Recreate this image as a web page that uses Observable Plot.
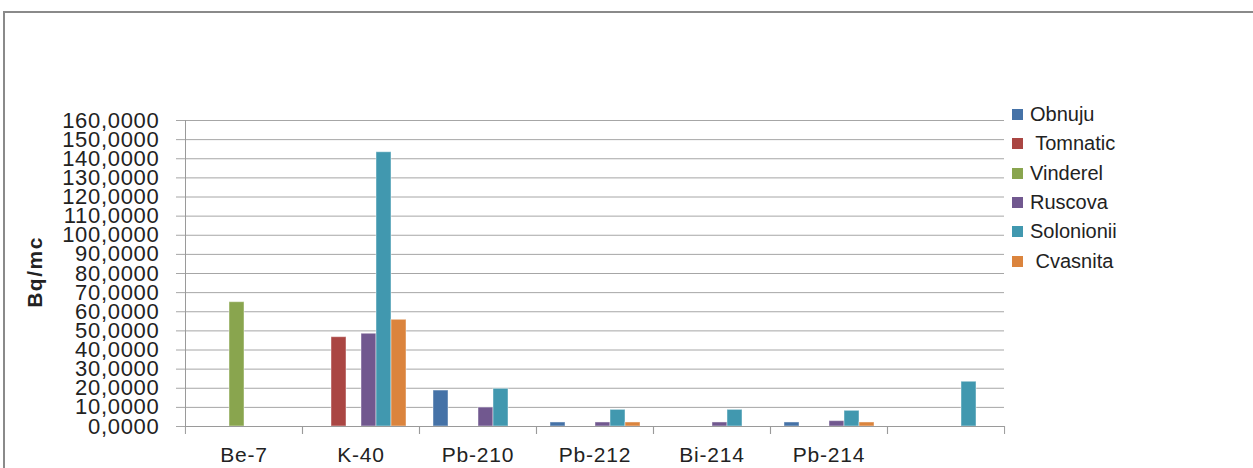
<!DOCTYPE html>
<html>
<head>
<meta charset="utf-8">
<script src="https://cdn.jsdelivr.net/npm/d3@7"></script>
<script src="https://cdn.jsdelivr.net/npm/@observablehq/plot@0.6"></script>
<style>
  html, body { margin: 0; padding: 0; background: #fff; overflow: hidden; }
  #wrap { position: relative; width: 1253px; height: 468px; overflow: hidden; }
  #border { position: absolute; left: 3px; top: 11px; width: 1400px; height: 700px; border: 2px solid #8a8a8a; box-sizing: border-box; }
  #chart { position: absolute; left: 0; top: 0; }
  #ytitle { position: absolute; left: 35px; top: 272px; transform: translate(-50%, -50%) rotate(-90deg);
            font: bold 21px "Liberation Sans", Arial, sans-serif; letter-spacing: 1.5px; color: #222; white-space: nowrap; }
  #legend { position: absolute; left: 1012px; top: 100px; font: 20px "Liberation Sans", Arial, sans-serif; color: #222; }
  #legend .item { height: 29.3px; display: flex; align-items: center; white-space: pre; }
  #legend .sw { width: 11px; height: 11px; margin-right: 7px; flex: none; }
</style>
</head>
<body>
<div id="wrap">
  <div id="border"></div>
  <div id="chart"></div>
  <div id="ytitle">Bq/mc</div>
  <div id="legend"></div>
</div>
<script>
// Categories (7th category has no label)
const categories = ["Be-7", "K-40", "Pb-210", "Pb-212", "Bi-214", "Pb-214", ""];
const seriesNames = ["Obnuju", "Tomnatic", "Vinderel", "Ruscova", "Solonionii", "Cvasnita"];
const legendLabels = ["Obnuju", " Tomnatic", "Vinderel", "Ruscova", "Solonionii", " Cvasnita"];
const colors = ["#4572A7", "#AA4643", "#89A54E", "#71588F", "#4198AF", "#DB843D"];

// Values (Bq/mc) per category, null = no bar
const obnuju     = [null, null, 18.8, 2.1, null, 2.1, null];
const tomnatic   = [null, 46.7, null, null, null, null, null];
const vinderel   = [65.0, null, null, null, null, null, null];
const ruscova    = [null, 48.5, 9.9, 2.1, 2.1, 2.8, null];
const solonionii = [null, 143.4, 19.7, 8.7, 8.7, 8.2, 23.4];
const cvasnita   = [null, 55.8, null, 2.1, null, 2.1, null];

const yTicks = d3.range(0, 161, 10);

const seriesValues = [obnuju, tomnatic, vinderel, ruscova, solonionii, cvasnita];
const table = [];
seriesNames.forEach((s, i) => {
  categories.forEach((c, j) => {
    const v = seriesValues[i][j];
    if (v != null) table.push({category: c, series: s, value: v});
  });
});

const W = 1253, H = 468;
const mL = 184, mR = 249, mT = 120, mB = 42;
const half = (W - mL - mR) / categories.length / 2;
const font = '"Liberation Sans", Arial, sans-serif';
const gridColor = "#a6a6a6";
const axisColor = "#9a9a9a";

const chart = Plot.plot({
  width: W,
  height: H,
  marginLeft: mL,
  marginRight: mR,
  marginTop: mT,
  marginBottom: mB,
  style: {fontFamily: font, color: "#222", background: "transparent", overflow: "visible"},
  fx: {domain: categories, padding: 0, label: null},
  x: {domain: seriesNames, paddingInner: 0, paddingOuter: 0.9, axis: null},
  y: {domain: [0, 160], label: null},
  color: {domain: seriesNames, range: colors},
  marks: [
    Plot.gridY(yTicks, {stroke: gridColor, strokeOpacity: 1}),
    Plot.barY(table, {fx: "category", x: "series", y: "value", fill: "series", stroke: "#ffffff", strokeOpacity: 0.45, strokeWidth: 1}),
    Plot.axisY(yTicks, {
      tickSize: 9,
      tickPadding: 17,
      tickFormat: d => d.toFixed(4).replace(".", ","),
      fontSize: 22,
      stroke: gridColor,
      fill: "#222",
      label: null
    }),
    Plot.frame({anchor: "left", facetAnchor: "left", stroke: axisColor}),
    Plot.ruleY([0], {stroke: axisColor}),
    Plot.axisFx({anchor: "bottom", tickSize: 0, tickPadding: 21, fontSize: 21, fill: "#222", label: null}),
    Plot.axisFx({anchor: "bottom", tickSize: 8, tickFormat: () => "", dx: -half, stroke: axisColor, label: null}),
    Plot.axisFx({anchor: "bottom", tickSize: 8, tickFormat: () => "", dx: half, stroke: axisColor, label: null})
  ]
});

document.getElementById("chart").appendChild(chart);
d3.select(chart).selectAll("g[aria-label='y-axis tick label'] text").style("letter-spacing", "0.7px");
d3.select(chart).selectAll("g[aria-label='fx-axis tick label'] text").style("letter-spacing", "0.8px");

// legend
const legend = d3.select("#legend");
seriesNames.forEach((s, i) => {
  const item = legend.append("div").attr("class", "item");
  item.append("div").attr("class", "sw").style("background", colors[i]);
  item.append("span").text(legendLabels[i]);
});
</script>
</body>
</html>
